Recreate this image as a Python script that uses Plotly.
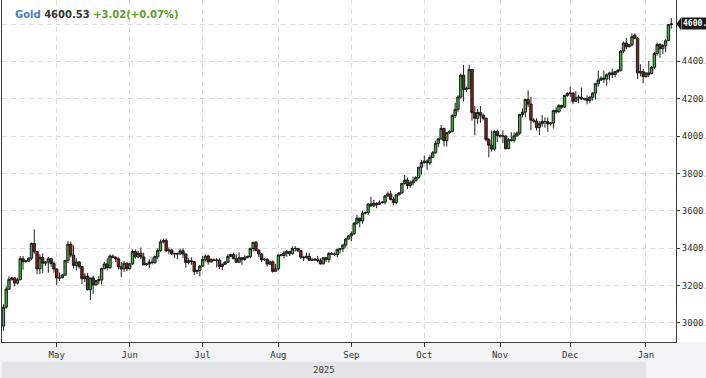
import pandas as pd
import plotly.graph_objects as go

# ---- sessions (Sun-Fri daily candles, Saturdays have no session) ----
all_days = pd.date_range("2025-04-09", "2026-01-12", freq="D")
dates = [d.strftime("%Y-%m-%d") for d in all_days if d.weekday() != 5]

# ---- OHLC values, one row per week (Sun..Fri) ----
open_ = [
    2982, 3083, 3180,
    3232, 3240, 3212, 3230, 3343, 3327,
    3330, 3345, 3424, 3381, 3288, 3349,
    3319, 3325, 3343, 3317, 3288, 3239,
    3241, 3255, 3334, 3420, 3362, 3306,
    3325, 3300, 3236, 3249, 3177, 3240,
    3202, 3225, 3230, 3290, 3315, 3295,
    3357, 3350, 3342, 3300, 3288, 3318,
    3289, 3315, 3381, 3353, 3372, 3352,
    3310, 3315, 3325, 3322, 3354, 3387,
    3433, 3440, 3384, 3389, 3369, 3369,
    3368, 3385, 3368, 3323, 3332, 3327,
    3274, 3280, 3303, 3338, 3357, 3326,
    3337, 3335, 3335, 3301, 3313, 3324,
    3355, 3365, 3343, 3324, 3348, 3339,
    3350, 3355, 3397, 3431, 3388, 3368,
    3337, 3340, 3314, 3326, 3275, 3289,
    3363, 3360, 3373, 3381, 3369, 3397,
    3398, 3385, 3351, 3348, 3356, 3335,
    3336, 3340, 3332, 3315, 3348, 3339,
    3371, 3368, 3365, 3393, 3397, 3416,
    3448, 3465, 3477, 3533, 3560, 3545,
    3587, 3590, 3636, 3626, 3640, 3634,
    3643, 3645, 3679, 3690, 3660, 3644,
    3685, 3695, 3746, 3764, 3735, 3749,
    3760, 3778, 3833, 3858, 3866, 3856,
    3886, 3910, 3961, 3985, 4040, 3976,
    4018, 4025, 4110, 4143, 4209, 4326,
    4250, 4255, 4356, 4125, 4095, 4126,
    4111, 4095, 3981, 3951, 3930, 4025,
    4002, 4000, 4000, 3932, 3980, 3977,
    4001, 4015, 4115, 4128, 4195, 4171,
    4085, 4080, 4045, 4066, 4078, 4077,
    4065, 4070, 4136, 4130, 4164, 4155,
    4218, 4228, 4230, 4186, 4205, 4208,
    4198, 4200, 4190, 4208, 4230, 4280,
    4300, 4310, 4305, 4328, 4338, 4330,
    4345, 4352, 4455, 4498, 4478, 4488,
    4540, 4524, 4338, 4345, 4318, 4338,
    4335, 4368, 4442, 4490, 4468, 4485,
    4512, 4597.51,
]
high = [
    3099, 3195, 3248,
    3245, 3245, 3240, 3357, 3357, 3335,
    3350, 3430, 3500, 3386, 3367, 3371,
    3330, 3352, 3348, 3328, 3290, 3269,
    3262, 3336, 3437, 3435, 3415, 3345,
    3330, 3302, 3265, 3266, 3240, 3252,
    3230, 3250, 3295, 3325, 3345, 3366,
    3365, 3355, 3350, 3325, 3330, 3325,
    3320, 3392, 3392, 3385, 3403, 3375,
    3320, 3340, 3350, 3360, 3398, 3446,
    3451, 3452, 3404, 3398, 3375, 3375,
    3398, 3398, 3370, 3345, 3350, 3330,
    3285, 3310, 3358, 3365, 3365, 3345,
    3342, 3345, 3345, 3317, 3330, 3368,
    3370, 3375, 3366, 3377, 3352, 3361,
    3358, 3402, 3433, 3438, 3394, 3373,
    3345, 3345, 3334, 3334, 3315, 3363,
    3368, 3385, 3390, 3385, 3409, 3410,
    3400, 3390, 3358, 3375, 3375, 3348,
    3345, 3358, 3345, 3350, 3351, 3379,
    3378, 3376, 3393, 3398, 3423, 3454,
    3470, 3489, 3540, 3578, 3563, 3600,
    3595, 3640, 3674, 3658, 3645, 3656,
    3652, 3685, 3703, 3707, 3675, 3686,
    3700, 3750, 3791, 3777, 3762, 3782,
    3785, 3835, 3872, 3895, 3876, 3897,
    3920, 3975, 3990, 4059, 4045, 4022,
    4030, 4116, 4179, 4218, 4335, 4381,
    4265, 4381, 4360, 4161, 4145, 4161,
    4120, 4100, 3990, 4030, 4030, 4034,
    4010, 4030, 4005, 3990, 4020, 4020,
    4025, 4120, 4148, 4200, 4245, 4211,
    4095, 4095, 4080, 4112, 4100, 4099,
    4075, 4140, 4155, 4170, 4168, 4220,
    4235, 4265, 4235, 4240, 4220, 4260,
    4205, 4218, 4215, 4235, 4285, 4350,
    4320, 4350, 4335, 4345, 4362, 4350,
    4360, 4460, 4506, 4525, 4492, 4550,
    4550, 4530, 4385, 4360, 4340, 4402,
    4375, 4450, 4500, 4498, 4492, 4518,
    4600, 4632,
]
low = [
    2957, 3075, 3175,
    3225, 3195, 3205, 3228, 3284, 3322,
    3325, 3335, 3370, 3260, 3260, 3266,
    3305, 3268, 3300, 3268, 3202, 3223,
    3238, 3250, 3320, 3350, 3290, 3280,
    3290, 3207, 3218, 3172, 3121, 3154,
    3200, 3205, 3205, 3285, 3280, 3287,
    3345, 3325, 3285, 3245, 3272, 3277,
    3285, 3310, 3343, 3345, 3340, 3307,
    3305, 3294, 3312, 3315, 3340, 3380,
    3425, 3382, 3366, 3362, 3347, 3340,
    3365, 3347, 3295, 3312, 3310, 3255,
    3260, 3248, 3300, 3328, 3311, 3322,
    3330, 3296, 3287, 3282, 3310, 3320,
    3352, 3340, 3320, 3319, 3310, 3332,
    3345, 3345, 3383, 3381, 3351, 3325,
    3330, 3301, 3309, 3268, 3273, 3281,
    3355, 3345, 3353, 3357, 3365, 3381,
    3380, 3341, 3331, 3344, 3330, 3330,
    3330, 3323, 3311, 3312, 3325, 3321,
    3365, 3357, 3352, 3371, 3379, 3402,
    3445, 3436, 3470, 3525, 3511, 3530,
    3580, 3578, 3621, 3620, 3613, 3630,
    3638, 3633, 3676, 3655, 3629, 3633,
    3682, 3690, 3740, 3717, 3722, 3735,
    3758, 3770, 3793, 3852, 3819, 3845,
    3884, 3905, 3940, 3980, 3945, 3944,
    4010, 4020, 4096, 4130, 4200, 4185,
    4235, 4250, 4082, 4004, 4065, 4070,
    4085, 3970, 3886, 3916, 3922, 3968,
    3990, 3962, 3929, 3930, 3970, 3965,
    3998, 4005, 4100, 4100, 4155, 4032,
    4070, 4030, 4005, 4050, 4045, 4022,
    4055, 4040, 4120, 4125, 4145, 4150,
    4210, 4210, 4170, 4185, 4175, 4195,
    4190, 4170, 4175, 4190, 4195, 4265,
    4295, 4285, 4270, 4298, 4310, 4315,
    4338, 4345, 4445, 4465, 4475, 4480,
    4518, 4305, 4320, 4283, 4312, 4316,
    4330, 4360, 4430, 4420, 4440, 4450,
    4508, 4575,
]
close = [
    3083, 3180, 3232,
    3240, 3212, 3230, 3343, 3327, 3330,
    3345, 3424, 3381, 3288, 3349, 3319,
    3325, 3343, 3317, 3288, 3239, 3241,
    3255, 3334, 3420, 3362, 3306, 3325,
    3300, 3236, 3249, 3177, 3240, 3202,
    3225, 3230, 3290, 3315, 3295, 3357,
    3350, 3342, 3300, 3288, 3318, 3289,
    3315, 3381, 3353, 3372, 3352, 3310,
    3315, 3325, 3322, 3354, 3387, 3433,
    3440, 3384, 3389, 3369, 3369, 3368,
    3385, 3368, 3323, 3332, 3327, 3274,
    3280, 3303, 3338, 3357, 3326, 3337,
    3335, 3335, 3301, 3313, 3324, 3355,
    3365, 3343, 3324, 3348, 3339, 3350,
    3355, 3397, 3431, 3388, 3368, 3337,
    3340, 3314, 3326, 3275, 3289, 3363,
    3360, 3373, 3381, 3369, 3397, 3398,
    3385, 3351, 3348, 3356, 3335, 3336,
    3340, 3332, 3315, 3348, 3339, 3371,
    3368, 3365, 3393, 3397, 3416, 3448,
    3465, 3477, 3533, 3560, 3545, 3587,
    3590, 3636, 3626, 3640, 3634, 3643,
    3645, 3679, 3690, 3660, 3644, 3685,
    3695, 3746, 3764, 3735, 3749, 3760,
    3778, 3833, 3858, 3866, 3856, 3886,
    3910, 3961, 3985, 4040, 3976, 4018,
    4025, 4110, 4143, 4209, 4326, 4250,
    4255, 4356, 4125, 4095, 4126, 4111,
    4095, 3981, 3951, 3930, 4025, 4002,
    4000, 4000, 3932, 3980, 3977, 4001,
    4015, 4115, 4128, 4195, 4171, 4085,
    4080, 4045, 4066, 4078, 4077, 4065,
    4070, 4136, 4130, 4164, 4155, 4218,
    4228, 4230, 4186, 4205, 4208, 4198,
    4200, 4190, 4208, 4230, 4280, 4300,
    4310, 4305, 4328, 4338, 4330, 4345,
    4352, 4455, 4498, 4478, 4488, 4532,
    4524, 4338, 4345, 4318, 4338, 4330,
    4368, 4442, 4490, 4468, 4485, 4510,
    4597.51, 4600.53,
]
assert len(dates) == len(open_) == len(high) == len(low) == len(close)

month_ticks = ["2025-05-01", "2025-06-01", "2025-07-01", "2025-08-01", "2025-09-01",
               "2025-10-01", "2025-11-02", "2025-12-01", "2026-01-01"]
month_labels = ["May", "Jun", "Jul", "Aug", "Sep", "Oct", "Nov", "Dec", "Jan"]
price_ticks = [3000, 3200, 3400, 3600, 3800, 4000, 4200, 4400, 4600]
price_labels = ["3000.00", "3200.00", "3400.00", "3600.00", "3800.00",
                "4000.00", "4200.00", "4400.00", ""]
year_label = "2025"
last_price = 4600.53

MONO = "DejaVu Sans Mono"
AXIS_COL = "#3a3a3a"
GRID_COL = "#dcdcdc"

fig = go.Figure(go.Candlestick(
    x=dates, open=open_, high=high, low=low, close=close,
    increasing=dict(line=dict(color="#1c1c1c", width=1), fillcolor="#45ad45"),
    decreasing=dict(line=dict(color="#1c1c1c", width=1), fillcolor="#8b1d1d"),
    whiskerwidth=0, showlegend=False, hoverinfo="skip",
))

# bottom strip backgrounds
fig.add_shape(type="rect", xref="paper", yref="paper", x0=-0.01, x1=1.05,
              y0=-0.11, y1=0, fillcolor="#f2f3f5", line_width=0, layer="below")
fig.add_shape(type="rect", xref="x", yref="paper", x0=-0.5, x1="2026-01-01",
              y0=-0.11, y1=-0.058, fillcolor="#e3e4e6", line_width=0, layer="below")
fig.add_annotation(xref="paper", yref="paper", x=0.4773, y=-0.082, text=year_label,
                   showarrow=False, font=dict(family=MONO, size=9, color="#444"),
                   xanchor="center", yanchor="middle")

# title
fig.add_annotation(
    xref="paper", yref="paper", x=0.0159, y=0.959, xanchor="left", yanchor="middle",
    showarrow=False,
    text=("<b><span style='color:#4a7fc1'>Gold</span> "
          "<span style='color:#333333'>4600.53</span> "
          "<span style='color:#5a9e2b'>+3.02(+0.07%)</span></b>"),
    font=dict(family="DejaVu Sans", size=10),
)

# last-price marker on the right axis
fig.add_shape(type="path", xref="paper", yref="y",
              path=f"M 1.0007,{last_price} L 1.0075,{last_price + 34} L 1.0075,{last_price - 34} Z",
              fillcolor="#1a1a1a", line_width=0)
fig.add_annotation(xref="paper", yref="y", x=1.0073, y=last_price, xanchor="left",
                   yanchor="middle", showarrow=False, text=f"{last_price:.2f}",
                   bgcolor="#1a1a1a", borderpad=1,
                   font=dict(family=MONO, size=8, color="white", weight="bold"))

fig.update_layout(
    template="none",
    width=706, height=378,
    margin=dict(l=2, r=30, t=0, b=36, pad=0, autoexpand=False),
    paper_bgcolor="white", plot_bgcolor="white",
    boxgap=0.15, boxgroupgap=0,
    showlegend=False,
    xaxis=dict(
        type="category", range=[-0.5, 239.7], rangeslider=dict(visible=False),
        automargin=False,
        tickvals=month_ticks, ticktext=month_labels,
        showgrid=True, gridcolor=GRID_COL, griddash="5px,4px", gridwidth=1,
        showline=True, linecolor=AXIS_COL, linewidth=1,
        ticks="outside", ticklen=4, tickcolor=AXIS_COL,
        tickfont=dict(family=MONO, size=9, color="#333"),
        fixedrange=True, zeroline=False,
    ),
    yaxis=dict(
        side="right", range=[2896.6, 4728.6], automargin=False,
        tickvals=price_ticks, ticktext=price_labels,
        showgrid=True, gridcolor=GRID_COL, griddash="5px,4px", gridwidth=1,
        showline=True, linecolor=AXIS_COL, linewidth=1, mirror=True,
        ticks="outside", ticklen=3, tickcolor=AXIS_COL,
        tickfont=dict(family=MONO, size=9, color="#333"),
        zeroline=False, fixedrange=True,
    ),
)

fig.write_html(
    "out.html",
    config={"displayModeBar": False, "staticPlot": True},
    post_script="document.body.style.margin='0';document.body.style.overflow='hidden';",
)
